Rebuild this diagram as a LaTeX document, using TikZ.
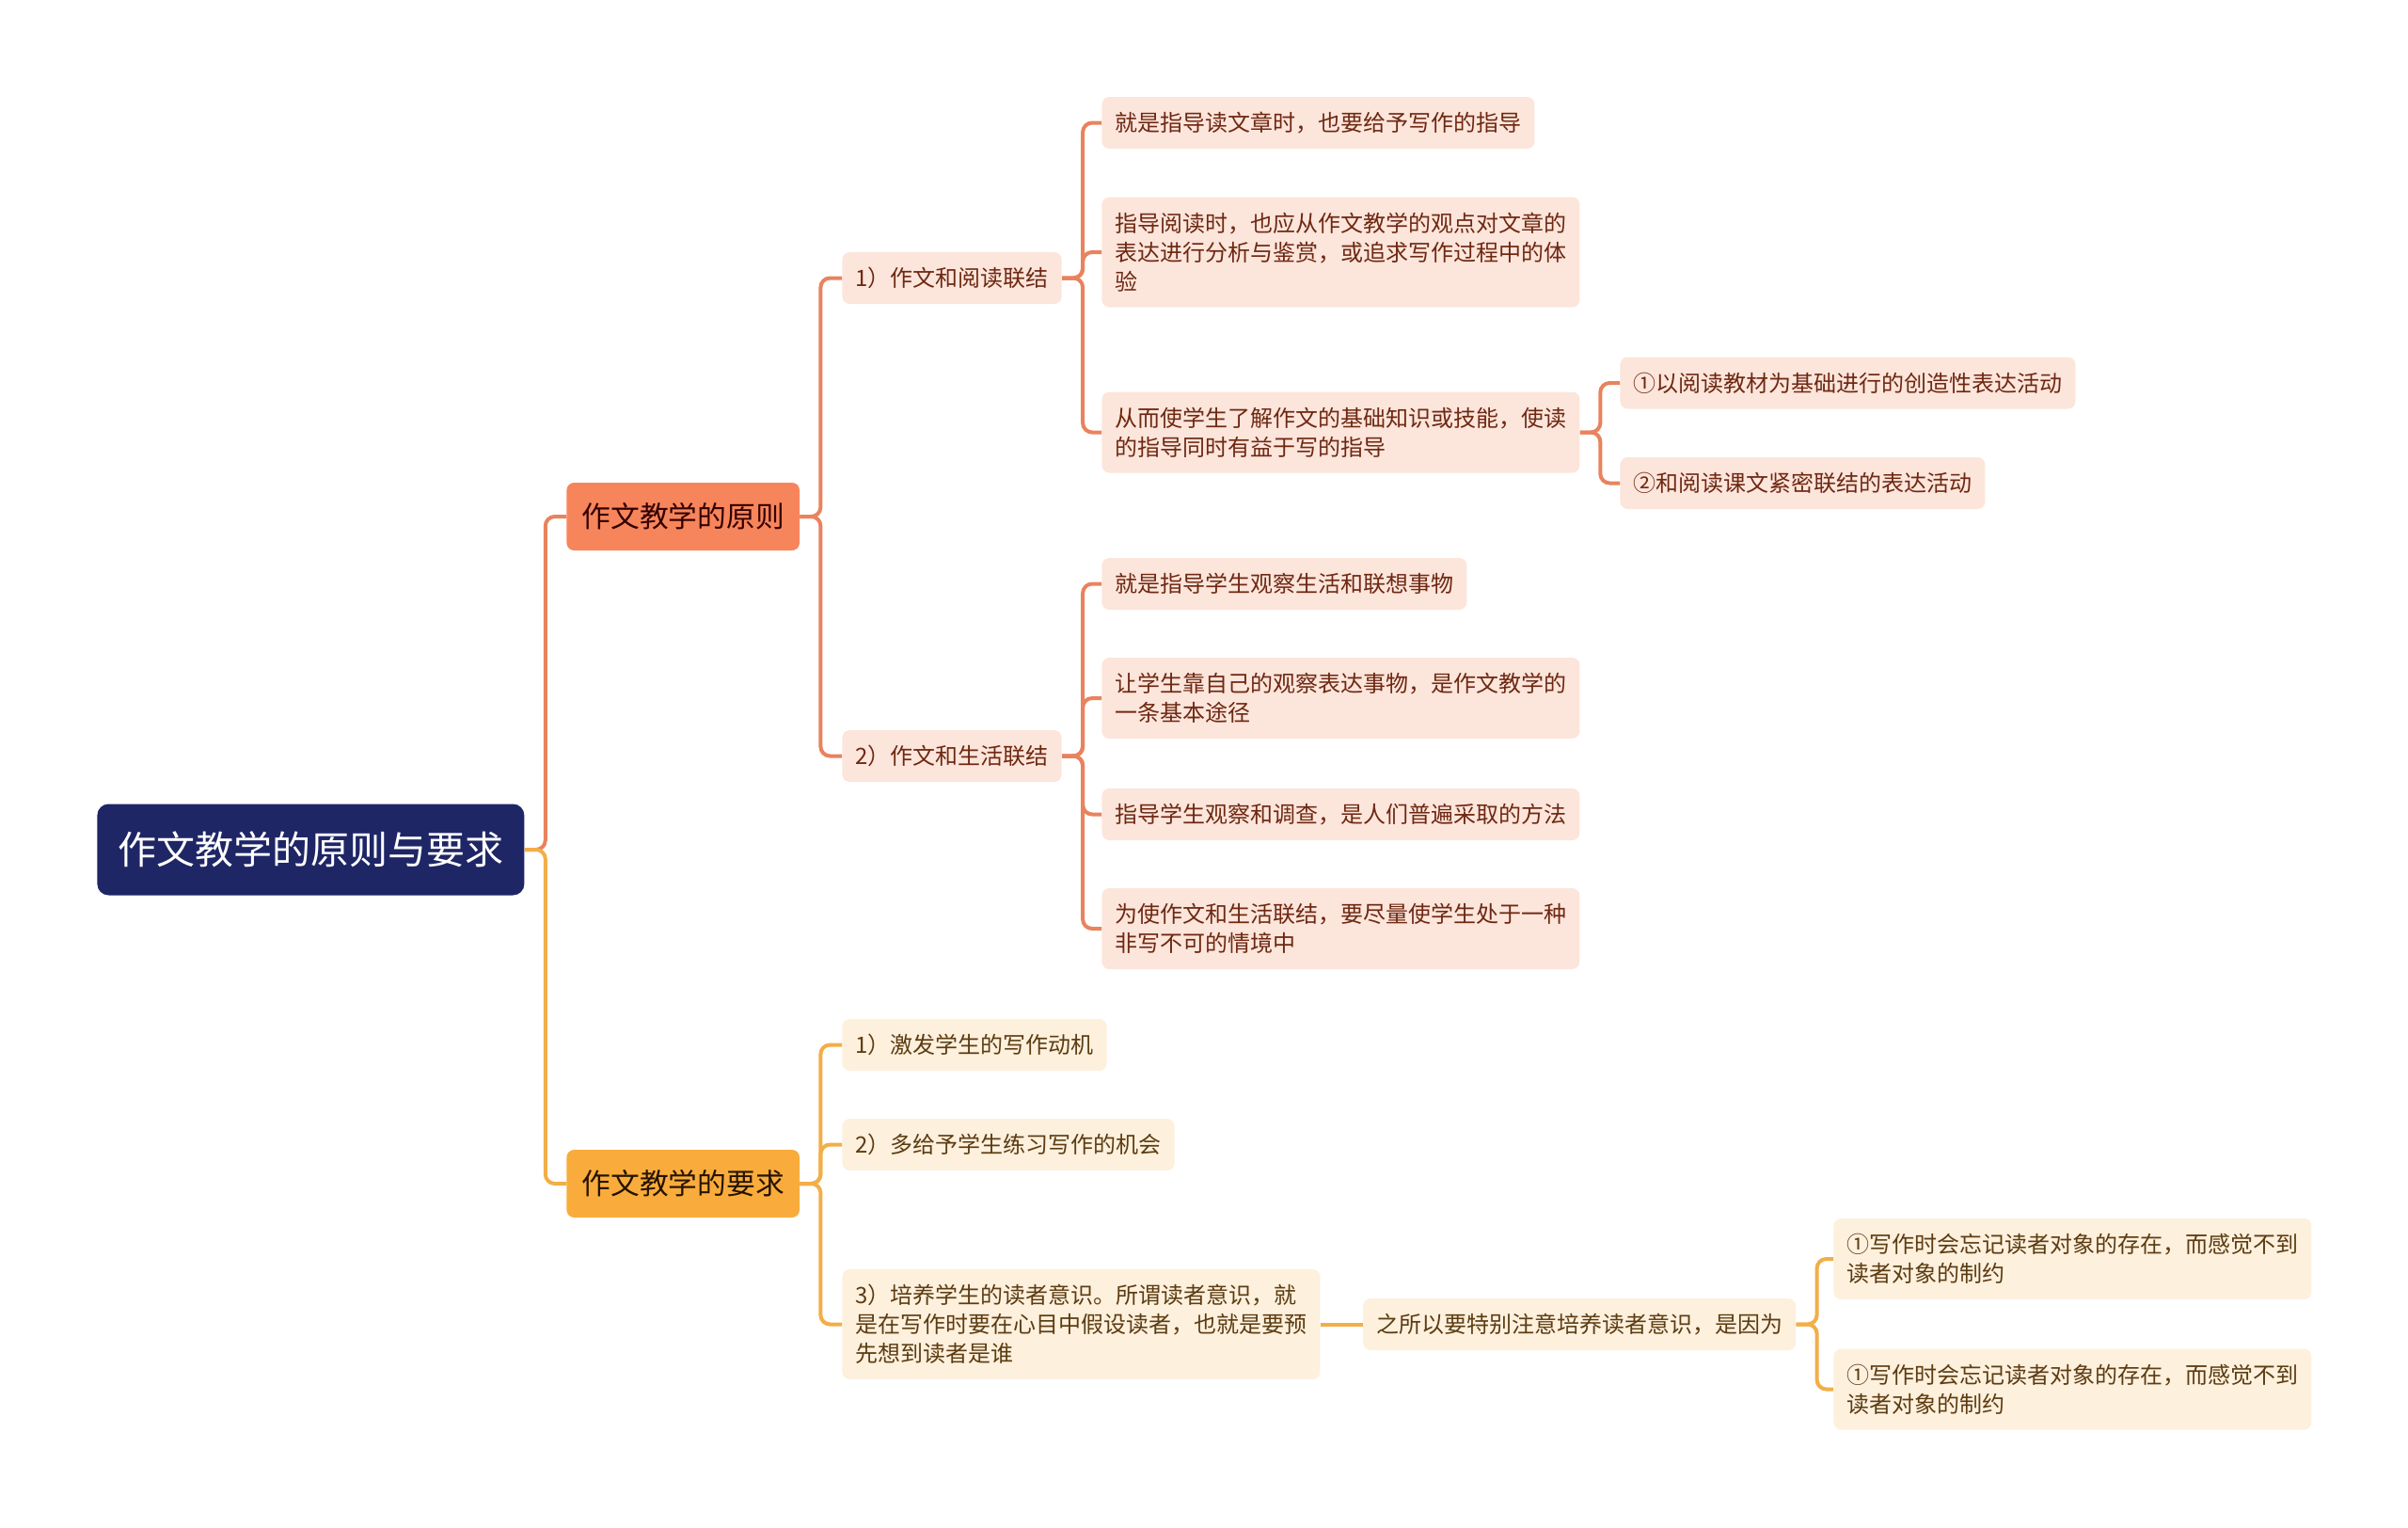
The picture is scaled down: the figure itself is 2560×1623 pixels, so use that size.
\documentclass[tikz,border=0pt]{standalone}
\usepackage{fontspec}
\setmainfont{Noto Sans CJK SC}
\usepackage{tikz}
\usetikzlibrary{positioning}
\definecolor{rootblue}{RGB}{31,38,102}
\definecolor{mainorange}{RGB}{247,133,91}
\definecolor{mainyellow}{RGB}{249,172,60}
\definecolor{lineorange}{RGB}{232,131,94}
\definecolor{lineyellow}{RGB}{242,174,72}
\definecolor{leafpink}{RGB}{252,229,219}
\definecolor{leafcream}{RGB}{253,240,221}
\definecolor{textred}{RGB}{110,40,18}
\definecolor{textbrown}{RGB}{92,60,18}

\begin{document}
\begin{tikzpicture}[
    x=0.5pt, y=-0.5pt,
    root_node/.style={fill=rootblue, rounded corners=6pt, anchor=west, inner xsep=11pt, inner ysep=0pt, minimum height=48.5pt, text=white, font=\fontsize{20.5}{24}\selectfont},
    main_topic/.style={rounded corners=4pt, anchor=west, inner xsep=8pt, inner ysep=0pt, minimum height=36pt, font=\fontsize{15.4}{18}\selectfont},
    leaf_o/.style={fill=leafpink, text=textred, rounded corners=4pt, anchor=west, inner xsep=7pt, inner ysep=0pt, minimum height=27.5pt, align=left, font=\fontsize{12}{15.5}\selectfont},
    leaf_y/.style={leaf_o, fill=leafcream, text=textbrown},
    two_lines/.style={minimum height=43pt},
    three_lines/.style={minimum height=58.5pt},
    link_o/.style={draw=lineorange, line width=2pt, rounded corners=5pt},
    link_y/.style={draw=lineyellow, line width=2pt, rounded corners=5pt}
]
    \useasboundingbox (0,0) rectangle (2560,1623);

    % Central topic
    \node[root_node] (root) at (103,903) {作文教学的原则与要求};

    % Two main branches
    \node[main_topic, fill=mainorange, text=black!80!red] (principle) at (602,549) {作文教学的原则};
    \node[main_topic, fill=mainyellow, text=black!85!orange] (demand) at (602,1258) {作文教学的要求};

    % Principle 1: reading
    \node[leaf_o] (read) at (895,295.5) {1）作文和阅读联结};
    \node[leaf_o] (read_a) at (1171,130.5) {就是指导读文章时，也要给予写作的指导};
    \node[leaf_o, three_lines] (read_b) at (1171,268) {指导阅读时，也应从作文教学的观点对文章的\\表达进行分析与鉴赏，或追求写作过程中的体\\验};
    \node[leaf_o, two_lines] (read_c) at (1171,459.5) {从而使学生了解作文的基础知识或技能，使读\\的指导同时有益于写的指导};
    \node[leaf_o] (read_c1) at (1722,407) {①以阅读教材为基础进行的创造性表达活动};
    \node[leaf_o] (read_c2) at (1722,513.5) {②和阅读课文紧密联结的表达活动};

    % Principle 2: life
    \node[leaf_o] (life) at (895,803.5) {2）作文和生活联结};
    \node[leaf_o] (life_a) at (1171,620.5) {就是指导学生观察生活和联想事物};
    \node[leaf_o, two_lines] (life_b) at (1171,742) {让学生靠自己的观察表达事物，是作文教学的\\一条基本途径};
    \node[leaf_o] (life_c) at (1171,865.5) {指导学生观察和调查，是人们普遍采取的方法};
    \node[leaf_o, two_lines] (life_d) at (1171,987) {为使作文和生活联结，要尽量使学生处于一种\\非写不可的情境中};

    % Demands
    \node[leaf_y] (motive) at (895,1110.5) {1）激发学生的写作动机};
    \node[leaf_y] (practice) at (895,1216.5) {2）多给予学生练习写作的机会};
    \node[leaf_y, three_lines] (reader) at (895,1407.5) {3）培养学生的读者意识。所谓读者意识，就\\是在写作时要在心目中假设读者，也就是要预\\先想到读者是谁};
    \node[leaf_y, right=22.5pt of reader] (reason) {之所以要特别注意培养读者意识，是因为};
    \node[leaf_y, two_lines] (reason_a) at (1949,1338) {①写作时会忘记读者对象的存在，而感觉不到\\读者对象的制约};
    \node[leaf_y, two_lines] (reason_b) at (1949,1476.5) {①写作时会忘记读者对象的存在，而感觉不到\\读者对象的制约};

    % Connectors
    \draw[link_o] (root.east) -- ++(22,0) |- (principle.west);
    \draw[link_y] (root.east) -- ++(22,0) |- (demand.west);

    \foreach \child in {read, life}
        \draw[link_o] (principle.east) -- ++(22,0) |- (\child.west);
    \foreach \child in {read_a, read_b, read_c}
        \draw[link_o] (read.east) -- ++(22,0) |- (\child.west);
    \foreach \child in {read_c1, read_c2}
        \draw[link_o] (read_c.east) -- ++(21.5,0) |- (\child.west);
    \foreach \child in {life_a, life_b, life_c, life_d}
        \draw[link_o] (life.east) -- ++(22,0) |- (\child.west);

    \foreach \child in {motive, practice, reader}
        \draw[link_y] (demand.east) -- ++(22,0) |- (\child.west);
    \draw[link_y] (reader.east) -- (reason.west);
    \foreach \child in {reason_a, reason_b}
        \draw[link_y] (reason.east) -- ++(22,0) |- (\child.west);

\end{tikzpicture}
\end{document}
